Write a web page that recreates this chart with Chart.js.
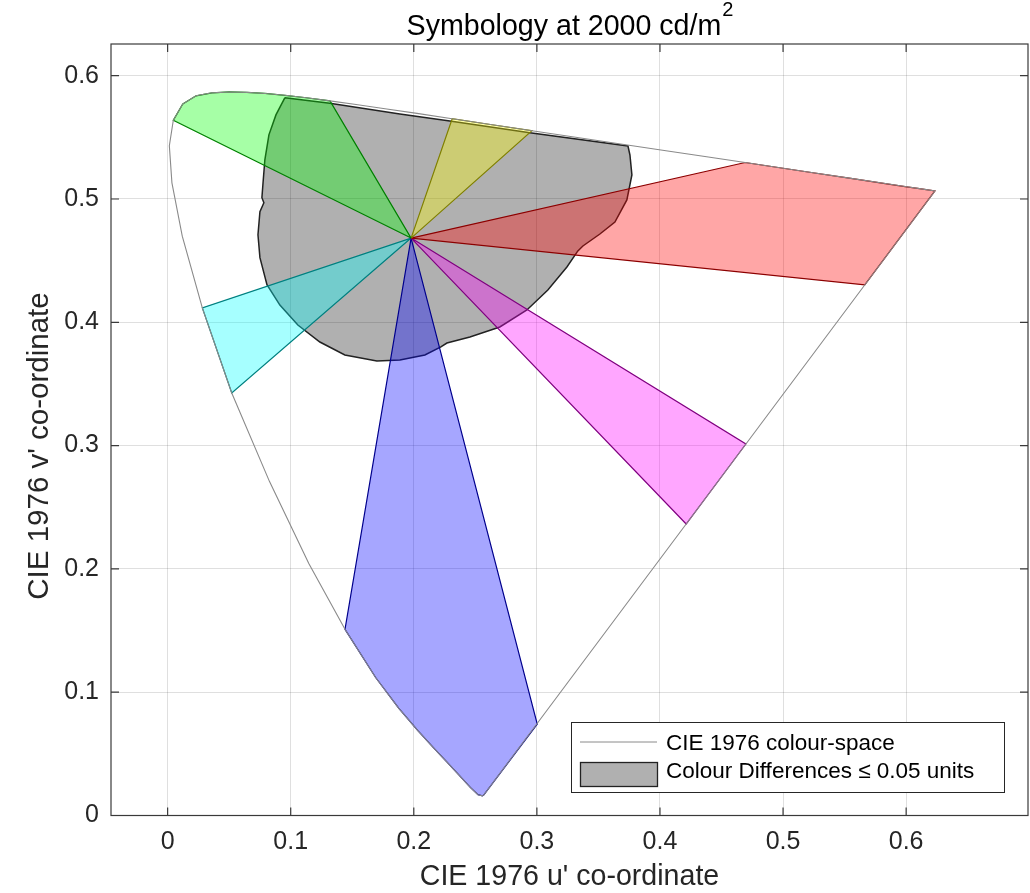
<!DOCTYPE html>
<html>
<head>
<meta charset="utf-8">
<script src="https://cdn.jsdelivr.net/npm/chart.js@4.4.1/dist/chart.umd.min.js"></script>
<style>
  body { margin: 0; background: #fff; }
  canvas { display: block; }
</style>
</head>
<body>
<canvas id="chart" width="1030" height="893"></canvas>
<script>
// spectral locus 380 -> 700 nm, closed back to 380 by the purple line
var locusU = [0.2568, 0.2557, 0.2522, 0.2461, 0.2347, 0.2266, 0.2161, 0.2033, 0.1877, 0.1690,
  0.1441, 0.1147, 0.0828, 0.0521, 0.0282, 0.0119, 0.0035, 0.0014, 0.0046, 0.0123,
  0.0231, 0.0360, 0.0501, 0.0643, 0.0792, 0.0953, 0.1127, 0.1319, 0.1531, 0.1766,
  0.2026, 0.2312, 0.2623, 0.2960, 0.3315, 0.3681, 0.4035, 0.4379, 0.4692, 0.5203,
  0.5565, 0.5830, 0.6005, 0.6109, 0.6234, 0.2568];
var locusV = [0.0166, 0.0159, 0.0169, 0.0226, 0.0350, 0.0437, 0.0549, 0.0688, 0.0871, 0.1119,
  0.1510, 0.2044, 0.2708, 0.3427, 0.4117, 0.4698, 0.5131, 0.5432, 0.5638, 0.5770,
  0.5837, 0.5861, 0.5868, 0.5865, 0.5856, 0.5841, 0.5821, 0.5796, 0.5766, 0.5732,
  0.5694, 0.5651, 0.5604, 0.5554, 0.5501, 0.5446, 0.5393, 0.5342, 0.5296, 0.5219,
  0.5165, 0.5125, 0.5099, 0.5084, 0.5065, 0.0166];

// region of colour differences <= 0.05
var blobU = [0.0953, 0.0880, 0.0823, 0.0790, 0.0774, 0.0766, 0.0782, 0.0750, 0.0734, 0.0750,
  0.0807, 0.0912, 0.1058, 0.1237, 0.1440, 0.1700, 0.1887, 0.2090, 0.2220, 0.2269,
  0.2456, 0.2699, 0.2919, 0.3089, 0.3244, 0.3333, 0.3374, 0.3512, 0.3634, 0.3731,
  0.3772, 0.3756, 0.3740, 0.2943, 0.2293, 0.1887, 0.1318, 0.0953];
var blobV = [0.5822, 0.5682, 0.5520, 0.5318, 0.5115, 0.5010, 0.4969, 0.4897, 0.4710, 0.4524,
  0.4305, 0.4140, 0.3978, 0.3840, 0.3735, 0.3686, 0.3694, 0.3735, 0.3800, 0.3832,
  0.3881, 0.3962, 0.4100, 0.4262, 0.4449, 0.4579, 0.4619, 0.4716, 0.4813, 0.4992,
  0.5195, 0.5357, 0.5430, 0.5538, 0.5633, 0.5690, 0.5776, 0.5822];

// symbol colour wedges, all from the white point
var greenU = [0.1978, 0.0046, 0.0123, 0.0231, 0.0360, 0.0501, 0.0643, 0.0792, 0.0953, 0.1127, 0.1319, 0.1978];
var greenV = [0.4683, 0.5638, 0.5770, 0.5837, 0.5861, 0.5868, 0.5865, 0.5856, 0.5841, 0.5821, 0.5796, 0.4683];
var yellowU = [0.1978, 0.2312, 0.2623, 0.2960, 0.1978];
var yellowV = [0.4683, 0.5651, 0.5604, 0.5554, 0.4683];
var redU = [0.1978, 0.4692, 0.5203, 0.5565, 0.5830, 0.6005, 0.6109, 0.6234, 0.5664, 0.1978];
var redV = [0.4683, 0.5296, 0.5219, 0.5165, 0.5125, 0.5099, 0.5084, 0.5065, 0.4303, 0.4683];
var magentaU = [0.1978, 0.4698, 0.4213, 0.1978];
var magentaV = [0.4683, 0.3013, 0.2364, 0.4683];
var blueU = [0.1978, 0.1441, 0.1690, 0.1877, 0.2033, 0.2161, 0.2266, 0.2347, 0.2461, 0.2522, 0.2557, 0.2568, 0.3003, 0.1978];
var blueV = [0.4683, 0.1510, 0.1119, 0.0871, 0.0688, 0.0549, 0.0437, 0.0350, 0.0226, 0.0169, 0.0159, 0.0166, 0.0742, 0.4683];
var cyanU = [0.1978, 0.0282, 0.0521, 0.1978];
var cyanV = [0.4683, 0.4117, 0.3427, 0.4683];

var uTicks = [0, 0.1, 0.2, 0.3, 0.4, 0.5, 0.6];
var vTicks = [0, 0.1, 0.2, 0.3, 0.4, 0.5, 0.6];
var legendLabels = ['CIE 1976 colour-space', 'Colour Differences \u2264 0.05 units'];
var yTitle = "CIE 1976 v' co-ordinate";

var FONT = '"Liberation Sans", Arial, Helvetica, sans-serif';
var axisColor = '#3a3a3a';
var textColor = '#262626';
var locusColor = '#8a8a8a';
var blobFill = 'rgba(0,0,0,0.31)';
var blobEdge = '#222';

function pts(us, vs) {
  var out = [];
  for (var i = 0; i < us.length; i++) out.push({x: us[i], y: vs[i]});
  return out;
}

function wedge(us, vs, fillCol, edgeCol) {
  return {
    data: pts(us, vs),
    borderColor: edgeCol,
    backgroundColor: fillCol,
    borderWidth: 1.2,
    fill: 'shape',
    order: 2
  };
}

// ticks inside the box, box outline, titles and legend
var decor = {
  id: 'decor',
  afterDraw: function (chart) {
    var ctx = chart.ctx;
    var a = chart.chartArea;
    var sx = chart.scales.x, sy = chart.scales.y;
    ctx.save();
    ctx.strokeStyle = axisColor;
    ctx.lineWidth = 1.2;
    ctx.strokeRect(a.left, a.top, a.right - a.left, a.bottom - a.top);
    ctx.beginPath();
    uTicks.forEach(function (v) {
      var px = sx.getPixelForValue(v);
      ctx.moveTo(px, a.bottom); ctx.lineTo(px, a.bottom - 8);
      ctx.moveTo(px, a.top); ctx.lineTo(px, a.top + 8);
    });
    vTicks.forEach(function (v) {
      var py = sy.getPixelForValue(v);
      ctx.moveTo(a.left, py); ctx.lineTo(a.left + 8, py);
      ctx.moveTo(a.right, py); ctx.lineTo(a.right - 8, py);
    });
    ctx.stroke();

    // title with superscript
    var main = 'Symbology at 2000 cd/m';
    ctx.fillStyle = '#000';
    ctx.textBaseline = 'alphabetic';
    ctx.textAlign = 'left';
    ctx.font = '28.6px ' + FONT;
    var w1 = ctx.measureText(main).width;
    ctx.font = '20px ' + FONT;
    var w2 = ctx.measureText('2').width;
    var x0 = (a.left + a.right) / 2 - (w1 + w2) / 2;
    ctx.font = '28.6px ' + FONT;
    ctx.fillText(main, x0, 35);
    ctx.font = '20px ' + FONT;
    ctx.fillText('2', x0 + w1 + 1, 16);

    // y axis title
    ctx.save();
    ctx.translate(40, 446);
    ctx.rotate(-Math.PI / 2);
    ctx.fillStyle = textColor;
    ctx.textAlign = 'center';
    ctx.textBaseline = 'middle';
    ctx.font = '29.5px ' + FONT;
    ctx.fillText(yTitle, 0, 0);
    ctx.restore();

    // legend
    var lx = 571.5, ly = 722.5, lw = 433, lh = 70;
    ctx.fillStyle = '#fff';
    ctx.fillRect(lx, ly, lw, lh);
    ctx.strokeStyle = '#262626';
    ctx.lineWidth = 1;
    ctx.strokeRect(lx, ly, lw, lh);
    ctx.strokeStyle = locusColor;
    ctx.beginPath();
    ctx.moveTo(580, 742); ctx.lineTo(657, 742);
    ctx.stroke();
    ctx.fillStyle = blobFill;
    ctx.fillRect(580.5, 762.5, 77, 24);
    ctx.strokeStyle = blobEdge;
    ctx.lineWidth = 1.3;
    ctx.strokeRect(580.5, 762.5, 77, 24);
    ctx.fillStyle = '#000';
    ctx.font = '22.5px ' + FONT;
    ctx.fillText(legendLabels[0], 666, 750);
    ctx.fillText(legendLabels[1], 666, 778);
    ctx.restore();
  }
};

var datasets = [
  {
    label: legendLabels[0],
    data: pts(locusU, locusV),
    borderColor: locusColor,
    borderWidth: 1.1,
    fill: false,
    order: 1
  },
  wedge(greenU, greenV, 'rgba(0,255,0,0.35)', 'rgb(0,128,0)'),
  wedge(yellowU, yellowV, 'rgba(255,255,0,0.35)', 'rgb(128,128,0)'),
  wedge(redU, redV, 'rgba(255,0,0,0.35)', 'rgb(140,0,0)'),
  wedge(magentaU, magentaV, 'rgba(255,0,255,0.35)', 'rgb(128,0,128)'),
  wedge(blueU, blueV, 'rgba(0,0,255,0.35)', 'rgb(0,0,140)'),
  wedge(cyanU, cyanV, 'rgba(0,255,255,0.35)', 'rgb(0,128,128)'),
  {
    label: legendLabels[1],
    data: pts(blobU, blobV),
    borderColor: blobEdge,
    backgroundColor: blobFill,
    borderWidth: 1.5,
    fill: 'shape',
    order: 3
  }
];

Chart.defaults.font.family = FONT;

new Chart(document.getElementById('chart'), {
  type: 'line',
  data: {datasets: datasets},
  options: {
    responsive: false,
    animation: false,
    events: [],
    devicePixelRatio: 1,
    elements: {point: {radius: 0}, line: {tension: 0}},
    layout: {padding: {top: 44, right: 2, left: 0, bottom: 0}},
    plugins: {legend: {display: false}, title: {display: false}, tooltip: {enabled: false}},
    scales: {
      x: {
        type: 'linear',
        min: -0.046,
        max: 0.699,
        afterBuildTicks: function (s) { s.ticks = uTicks.map(function (v) { return {value: v}; }); },
        afterFit: function (s) { s.height = 77.5; },
        grid: {color: 'rgba(38,38,38,0.15)', drawTicks: false},
        border: {display: false},
        ticks: {
          autoSkip: false, maxRotation: 0, padding: 12, color: textColor,
          font: {size: 25},
          callback: function (v) { return String(+v.toFixed(2)); }
        },
        title: {
          display: true, text: "CIE 1976 u' co-ordinate", color: textColor,
          font: {size: 28.6, lineHeight: 1}, padding: {top: 0, bottom: 2}
        }
      },
      y: {
        type: 'linear',
        min: 0,
        max: 0.6257,
        afterBuildTicks: function (s) { s.ticks = vTicks.map(function (v) { return {value: v}; }); },
        afterFit: function (s) { s.width = 111; },
        grid: {color: 'rgba(38,38,38,0.15)', drawTicks: false},
        border: {display: false},
        ticks: {
          autoSkip: false, padding: 12, color: textColor,
          font: {size: 25},
          callback: function (v) { return String(+v.toFixed(2)); }
        },
        title: {display: false}
      }
    }
  },
  plugins: [decor]
});
</script>
</body>
</html>
